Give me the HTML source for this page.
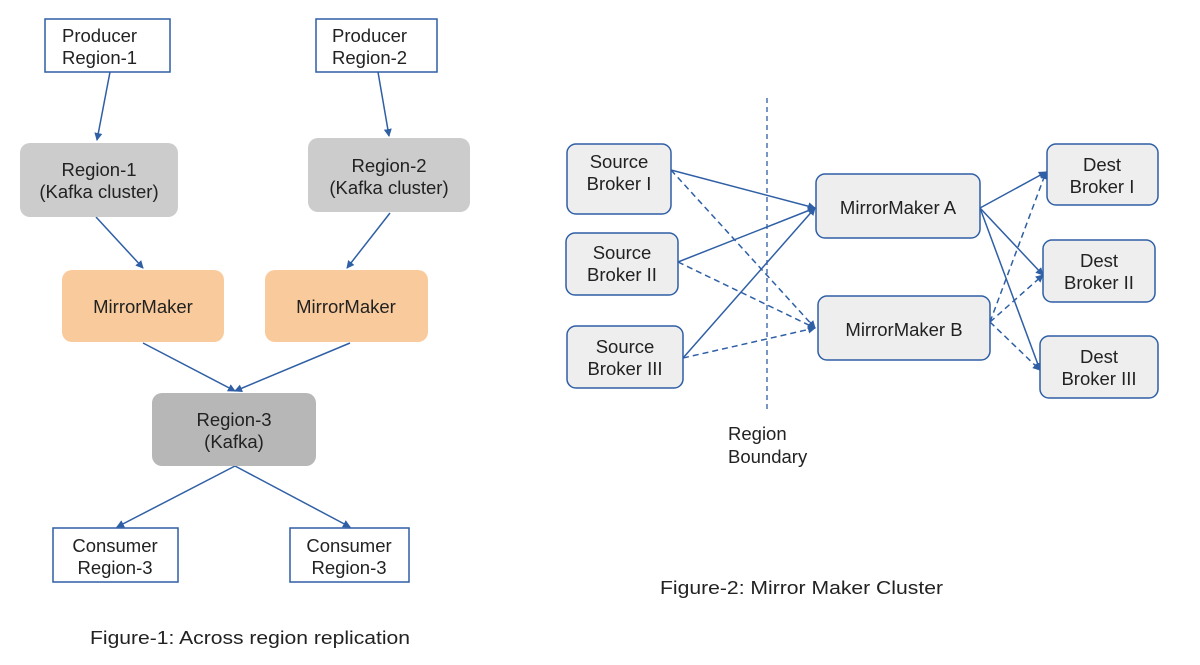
<!DOCTYPE html>
<html><head><style>
body{margin:0;background:#fff;width:1200px;height:665px;overflow:hidden;font-family:"Liberation Sans",sans-serif;}
svg{position:absolute;left:0;top:0}
text{font-family:"Liberation Sans",sans-serif;fill:#222;font-size:18.5px}
</style></head><body>
<svg width="1200" height="665" viewBox="0 0 1200 665">
<defs>
<marker id="a" markerWidth="8" markerHeight="8" refX="7" refY="4" orient="auto" markerUnits="userSpaceOnUse"><path d="M0,0 L8,4 L0,8z" fill="#2f5fa5"/></marker>
</defs>
<g stroke="#2f5fa5" stroke-width="1.5" fill="none" marker-end="url(#a)">
<line x1="110" y1="72" x2="97" y2="140"/>
<line x1="378" y1="72" x2="389" y2="136"/>
<line x1="96" y1="217" x2="143" y2="268"/>
<line x1="390" y1="213" x2="347" y2="268"/>
<line x1="143" y1="343" x2="235" y2="391"/>
<line x1="350" y1="343" x2="235" y2="391"/>
<line x1="235" y1="466" x2="117" y2="527"/>
<line x1="235" y1="466" x2="350" y2="527"/>
<line x1="671" y1="170" x2="815" y2="208"/>
<line x1="678" y1="262" x2="815" y2="208"/>
<line x1="683" y1="358" x2="815" y2="208"/>
<line x1="980" y1="208" x2="1046" y2="172"/>
<line x1="980" y1="208" x2="1043" y2="275"/>
<line x1="980" y1="208" x2="1040" y2="370"/>
<g stroke-dasharray="6,4">
<line x1="671" y1="170" x2="815" y2="328"/>
<line x1="678" y1="262" x2="815" y2="328"/>
<line x1="683" y1="358" x2="815" y2="328"/>
<line x1="990" y1="322" x2="1046" y2="172"/>
<line x1="990" y1="322" x2="1043" y2="275"/>
<line x1="990" y1="322" x2="1040" y2="370"/>
</g>
</g>
<line x1="767" y1="98" x2="767" y2="410" stroke="#2f5fa5" stroke-width="1.3" stroke-dasharray="5,4"/>
<g stroke="#2f5fa5" stroke-width="1.5" fill="#fff">
<rect x="45" y="19" width="125" height="53"/>
<rect x="316" y="19" width="121" height="53"/>
<rect x="53" y="528" width="125" height="54"/>
<rect x="290" y="528" width="119" height="54"/>
</g>
<rect x="20" y="143" width="158" height="74" rx="10" fill="#cccccc"/>
<rect x="308" y="138" width="162" height="74" rx="10" fill="#cccccc"/>
<rect x="62" y="270" width="162" height="72" rx="10" fill="#f9cb9c"/>
<rect x="265" y="270" width="163" height="72" rx="10" fill="#f9cb9c"/>
<rect x="152" y="393" width="164" height="73" rx="10" fill="#b7b7b7"/>
<g stroke="#2f5fa5" stroke-width="1.5" fill="#eeeeee">
<rect x="567" y="144" width="104" height="70" rx="9"/>
<rect x="566" y="233" width="112" height="62" rx="9"/>
<rect x="567" y="326" width="116" height="62" rx="9"/>
<rect x="816" y="174" width="164" height="64" rx="9"/>
<rect x="818" y="296" width="172" height="64" rx="9"/>
<rect x="1047" y="144" width="111" height="61" rx="9"/>
<rect x="1043" y="240" width="112" height="62" rx="9"/>
<rect x="1040" y="336" width="118" height="62" rx="9"/>
</g>
<text x="62" y="42">Producer</text><text x="62" y="64">Region-1</text>
<text x="332" y="42">Producer</text><text x="332" y="64">Region-2</text>
<g text-anchor="middle">
<text x="99" y="176">Region-1</text><text x="99" y="198">(Kafka cluster)</text>
<text x="389" y="172">Region-2</text><text x="389" y="194">(Kafka cluster)</text>
<text x="143" y="313">MirrorMaker</text>
<text x="346" y="313">MirrorMaker</text>
<text x="234" y="426">Region-3</text><text x="234" y="448">(Kafka)</text>
<text x="115" y="552">Consumer</text><text x="115" y="574">Region-3</text>
<text x="349" y="552">Consumer</text><text x="349" y="574">Region-3</text>
<text x="619" y="168">Source</text><text x="619" y="190">Broker I</text>
<text x="622" y="259">Source</text><text x="622" y="281">Broker II</text>
<text x="625" y="353">Source</text><text x="625" y="375">Broker III</text>
<text x="898" y="214" font-size="20.5">MirrorMaker A</text>
<text x="904" y="336" font-size="20.5">MirrorMaker B</text>
<text x="1102" y="171">Dest</text><text x="1102" y="193">Broker I</text>
<text x="1099" y="267">Dest</text><text x="1099" y="289">Broker II</text>
<text x="1099" y="363">Dest</text><text x="1099" y="385">Broker III</text>
</g>
<text x="728" y="440">Region</text><text x="728" y="463">Boundary</text>
<text x="90" y="644" font-size="21.5" textLength="320" lengthAdjust="spacingAndGlyphs">Figure-1: Across region replication</text>
<text x="660" y="594" font-size="21.5" textLength="283" lengthAdjust="spacingAndGlyphs">Figure-2: Mirror Maker Cluster</text>
</svg>
</body></html>
